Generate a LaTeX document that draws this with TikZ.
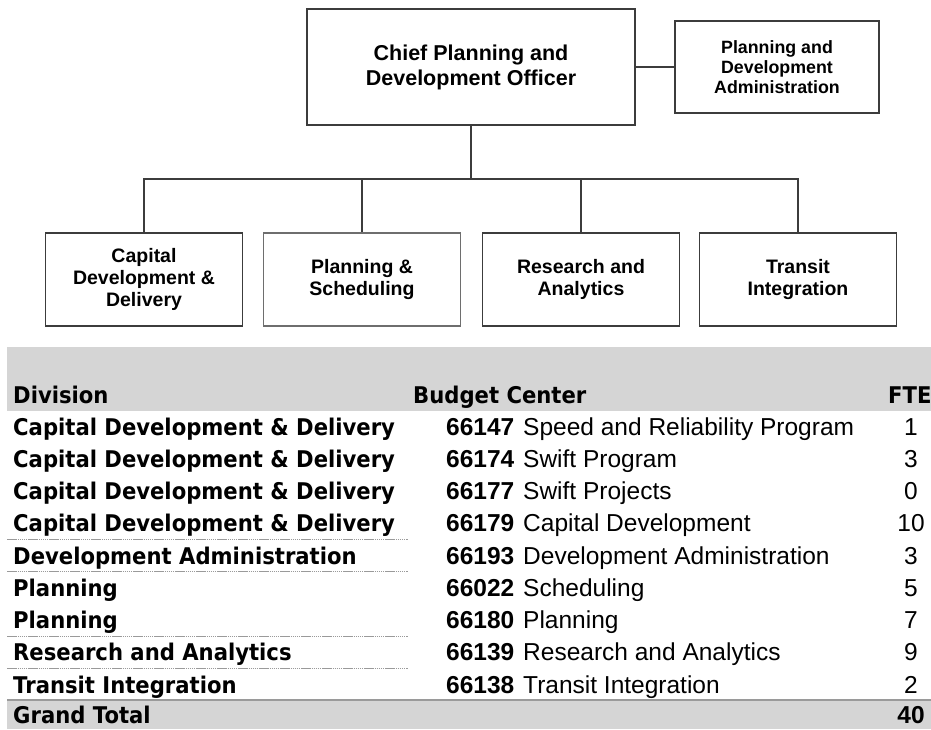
\documentclass[tikz,border=0pt]{standalone}
\usepackage{fontspec}
\setmainfont{Liberation Sans}
\newfontfamily\divfont[FakeStretch=0.92]{DejaVu Sans}
\definecolor{linec}{HTML}{3C3C3C}
\definecolor{lightline}{HTML}{6E6E6E}
\definecolor{band}{HTML}{D5D5D5}
\definecolor{sepc}{HTML}{9A9A9A}
\begin{document}
\begin{tikzpicture}[x=1pt,y=-1pt,
  orgbox/.style={draw=linec, line width=1.3pt, rectangle, align=center, inner sep=0pt,
    minimum width=197pt, minimum height=93pt, font=\bfseries\fontsize{19.5}{22}\selectfont},
  conn/.style={draw=linec, line width=1.3pt},
  hdr/.style={anchor=base west, inner sep=0pt, font=\divfont\bfseries\fontsize{23}{28}\selectfont},
  divt/.style={anchor=base west, inner sep=0pt, font=\divfont\bfseries\fontsize{23}{28}\selectfont},
  codet/.style={anchor=base west, inner sep=0pt, font=\bfseries\fontsize{24.5}{28}\selectfont},
  namet/.style={anchor=base west, inner sep=0pt, font=\fontsize{24.5}{28}\selectfont},
  ftet/.style={anchor=base, inner sep=0pt, font=\fontsize{24.5}{28}\selectfont},
  sepline/.style={draw=sepc, line width=1pt, dash pattern=on 1.5pt off 0.6pt},
]
\useasboundingbox (0,0) rectangle (931,729);

% ---------- org chart ----------
\node[orgbox, minimum width=328pt, minimum height=116pt,
      font=\bfseries\fontsize{21.5}{25}\selectfont] (chief) at (471,67)
      {Chief Planning and\\Development Officer};
\node[orgbox, minimum width=204pt, minimum height=92pt,
      font=\bfseries\fontsize{17.8}{20}\selectfont] (admin) at (777,67)
      {Planning and\\Development\\Administration};
\node[orgbox] (b1) at (144,279.5) {Capital\\Development \&\\Delivery};
\node[orgbox, draw=lightline] (b2) at (362,279.5) {Planning \&\\Scheduling};
\node[orgbox] (b3) at (581,279.5) {Research and\\Analytics};
\node[orgbox] (b4) at (798,279.5) {Transit\\Integration};

\coordinate (bar) at (471,179);
\draw[conn] (chief.east) -- (admin.west);
\draw[conn] (chief.south) -- (bar);
\draw[conn] (bar) -| (b1.north);
\draw[conn] (bar) -| (b2.north);
\draw[conn] (bar) -| (b3.north);
\draw[conn] (bar) -| (b4.north);

% ---------- table ----------
\fill[band] (7,347) rectangle (931,411);
\fill[band] (7,700) rectangle (931,729);
\draw[draw=sepc, line width=1.2pt] (7,700) -- (931,700);

\node[hdr] (hdiv) at (13,403) {Division};
\node[hdr] (hbud) at (413,403) {Budget Center};
\node[hdr] (hfte) at (888,403) {FTE};

\foreach \i/\d/\c/\n/\f in {
  1/{Capital Development \& Delivery}/66147/{Speed and Reliability Program}/1,
  2/{Capital Development \& Delivery}/66174/{Swift Program}/3,
  3/{Capital Development \& Delivery}/66177/{Swift Projects}/0,
  4/{Capital Development \& Delivery}/66179/{Capital Development}/10,
  5/{Development Administration}/66193/{Development Administration}/3,
  6/{Planning}/66022/{Scheduling}/5,
  7/{Planning}/66180/{Planning}/7,
  8/{Research and Analytics}/66139/{Research and Analytics}/9,
  9/{Transit Integration}/66138/{Transit Integration}/2}
{
  \node[divt] (d\i) at (13,{435+(\i-1)*32.25}) {\d};
  \node[codet] (c\i) at (446,{435+(\i-1)*32.25}) {\c};
  \node[namet] (n\i) at (523,{435+(\i-1)*32.25}) {\n};
  \node[ftet] (f\i) at (911,{435+(\i-1)*32.25}) {\f};
}

\draw[sepline] (7,539) -- (408,539);
\draw[sepline] (7,571) -- (408,571);
\draw[sepline] (7,636) -- (408,636);
\draw[sepline] (7,668) -- (408,668);

\node[divt] (gt) at (13,723) {Grand Total};
\node[ftet, font=\bfseries\fontsize{24.5}{28}\selectfont] (gtv) at (911,723) {40};
\end{tikzpicture}
\end{document}
